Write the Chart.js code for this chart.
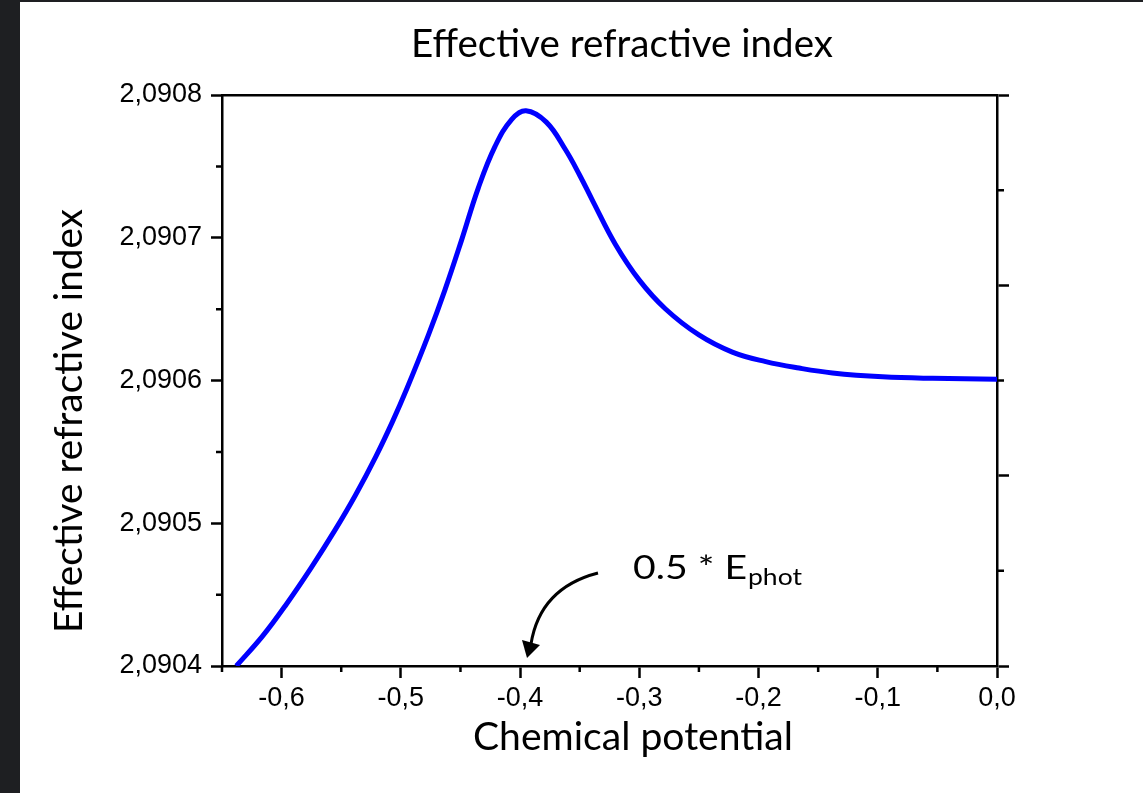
<!DOCTYPE html>
<html>
  <head>
    <title>Effective refractive index</title>
    <script src="https://cdn.jsdelivr.net/npm/chart.js@4.4.1/dist/chart.umd.min.js"></script>
    <style>
      body { margin: 0; background: #1e1f22; }
      #wrap { position: absolute; left: 20px; top: 2px; width: 1123px; height: 791px; background: #fff; }
    </style>
    <script>

    // chemical potential (x) and effective refractive index (y)
    const chemPotential = [-0.638, -0.616, -0.596, -0.575, -0.555, -0.538, -0.521, -0.507, -0.495,
                           -0.477, -0.463, -0.449, -0.435, -0.421, -0.407, -0.395, -0.378, -0.362,
                           -0.350, -0.339, -0.320, -0.300, -0.278, -0.250, -0.222, -0.194,
                           -0.166, -0.138, -0.096, -0.054, 0.0];
    const refIndex = [2.0904000, 2.0904209, 2.0904433, 2.0904691, 2.0904955, 2.0905198, 2.0905467, 2.0905712, 2.0905942,
                      2.0906316, 2.0906635, 2.0906985, 2.0907350, 2.0907640, 2.0907830, 2.0907890, 2.0907810, 2.0907618,
                      2.0907438, 2.0907257, 2.0906953, 2.0906703, 2.0906501, 2.0906319, 2.0906199, 2.0906132,
                      2.0906087, 2.0906053, 2.0906026, 2.0906015, 2.0906009];

    // tick labels / positions
    const xTicks = [-0.6, -0.5, -0.4, -0.3, -0.2, -0.1, 0.0];
    const xMinor = [-0.65, -0.55, -0.45, -0.35, -0.25, -0.15, -0.05];
    const yTicks = [2.0904, 2.0905, 2.0906, 2.0907, 2.0908];
    const yMinor = [2.09045, 2.09055, 2.09065, 2.09075];
    const rightTicks = [0, 2, 4, 6];
    const rightMinor = [1, 3, 5];

    const titleText = 'Effective refractive index';
    const xTitle = 'Chemical potential';
    const yTitle = 'Effective refractive index';
    const noteMain = '0.5 * E';
    const noteSub = 'phot';

    const OX = 20, OY = 2; // wrapper offset on the page

    // text fitted to a width (calibri-like look), drawn at page coords
    function fitText(ctx, text, size, x, y, width, align)
    {
      ctx.font = size + 'px Lato';
      let w = ctx.measureText(text).width;
      let sx = width / w;
      ctx.save();
      ctx.translate(x - OX, y - OY);
      ctx.scale(sx, 1);
      ctx.textAlign = align;
      ctx.textBaseline = 'alphabetic';
      ctx.fillStyle = '#000';
      ctx.fillText(text, 0, 0);
      ctx.restore();
    }

    const decor = {
      id: 'decor',
      afterDraw(chart)
      {
        const ctx = chart.ctx;
        const sc = chart.scales;

        // minor ticks
        ctx.save();
        ctx.strokeStyle = '#000';
        ctx.lineWidth = 2.5;
        ctx.beginPath();
        xMinor.forEach(v => {
          let px = sc.x.getPixelForValue(v);
          ctx.moveTo(px, sc.x.top); ctx.lineTo(px, sc.x.top + 6);
        });
        yMinor.forEach(v => {
          let py = sc.y.getPixelForValue(v);
          ctx.moveTo(sc.y.right, py); ctx.lineTo(sc.y.right - 6, py);
        });
        rightMinor.forEach(v => {
          let py = sc.y2.getPixelForValue(v);
          ctx.moveTo(sc.y2.left, py); ctx.lineTo(sc.y2.left + 7, py);
        });
        ctx.stroke();
        ctx.restore();

        // titles
        fitText(ctx, titleText, 38, 622, 57, 422, 'center');
        fitText(ctx, xTitle, 38, 633, 750, 320, 'center');

        ctx.save();
        ctx.translate(82 - OX, 421 - OY);
        ctx.rotate(-Math.PI / 2);
        ctx.font = '38px Lato';
        let w = ctx.measureText(yTitle).width;
        ctx.scale(424 / w, 1);
        ctx.textAlign = 'center';
        ctx.fillStyle = '#000';
        ctx.fillText(yTitle, 0, 0);
        ctx.restore();

        // annotation
        fitText(ctx, noteMain, 33, 633, 579, 114, 'left');
        fitText(ctx, noteSub, 24, 748, 585, 54, 'left');

        // curved arrow
        ctx.save();
        ctx.translate(-OX, -OY);
        ctx.strokeStyle = '#000';
        ctx.fillStyle = '#000';
        ctx.lineWidth = 3;
        ctx.beginPath();
        ctx.moveTo(598, 573);
        ctx.quadraticCurveTo(540, 588, 531, 644);
        ctx.stroke();
        ctx.beginPath();
        ctx.moveTo(527, 658);
        ctx.lineTo(522, 640);
        ctx.lineTo(540, 645);
        ctx.closePath();
        ctx.fill();
        ctx.restore();
      }
    };

    function commaFmt(digits)
    {
      return v => v.toFixed(digits).replace('.', ',');
    }

    function start()
    {
      const ctx = document.getElementById('chart').getContext('2d');
      const tickFont = { family: 'Liberation Sans', size: 27 };

      new Chart(ctx, {
        type: 'line',
        data: {
          datasets: [{
            data: chemPotential.map((x, i) => ({ x: x, y: refIndex[i] })),
            borderColor: '#0000ff',
            borderWidth: 5,
            pointRadius: 0,
            fill: false,
            tension: 0.4
          }]
        },
        options: {
          responsive: false,
          animation: false,
          layout: { padding: { top: 93, left: 0, right: 0, bottom: 0 } },
          plugins: { legend: { display: false }, tooltip: { enabled: false }, title: { display: false } },
          scales: {
            x: {
              type: 'linear', position: 'bottom', min: -0.65, max: 0,
              afterBuildTicks: s => { s.ticks = xTicks.map(v => ({ value: v })); },
              afterFit: s => { s.height = 127; },
              grid: { drawOnChartArea: false, drawTicks: true, tickLength: 12, tickColor: '#000', tickWidth: 2.5 },
              border: { display: true, color: '#000', width: 2.5 },
              ticks: { color: '#000', font: tickFont, padding: 4, maxRotation: 0, callback: commaFmt(1) }
            },
            x2: {
              type: 'linear', position: 'top', min: -0.65, max: 0,
              afterFit: s => { s.height = 0; },
              grid: { drawOnChartArea: false, drawTicks: false },
              border: { display: true, color: '#000', width: 2.5 },
              ticks: { display: false }
            },
            y: {
              type: 'linear', position: 'left', min: 2.0904, max: 2.0908,
              afterBuildTicks: s => { s.ticks = yTicks.map(v => ({ value: v })); },
              afterFit: s => { s.width = 202; },
              grid: { drawOnChartArea: false, drawTicks: true, tickLength: 11, tickColor: '#000', tickWidth: 2.5 },
              border: { display: true, color: '#000', width: 2.5 },
              ticks: { color: '#000', font: tickFont, padding: 9, callback: commaFmt(4) }
            },
            y2: {
              type: 'linear', position: 'right', min: 0, max: 6,
              afterBuildTicks: s => { s.ticks = rightTicks.map(v => ({ value: v })); },
              afterFit: s => { s.width = 146; },
              grid: { drawOnChartArea: false, drawTicks: true, tickLength: 12, tickColor: '#000', tickWidth: 2.5 },
              border: { display: true, color: '#000', width: 2.5 },
              ticks: { color: '#000', font: tickFont, padding: 0, callback: () => '' }
            }
          }
        },
        plugins: [decor]
      });
    }
    </script>
  </head>
  <body onload="start()">
    <div id="wrap">
      <canvas id="chart" width="1123" height="791"></canvas>
    </div>
  </body>
</html>
